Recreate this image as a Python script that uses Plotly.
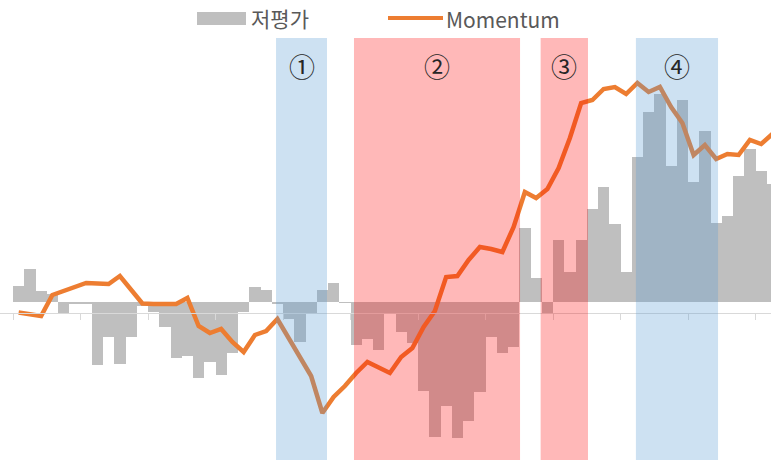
import plotly.graph_objects as go

# ---- data ----
bar_name = "저평가"
line_name = "Momentum"

undervalue = [1.6, 3.3, 1.1, 0.8, -1.1, -0.2, -0.2, -6.3, -3.5, -6.2,
              -3.5, -0.4, -1.0, -2.5, -5.6, -5.4, -7.6, -6.0, -7.3, -5.1,
              -1.0, 1.5, 1.2, -0.2, -1.7, -4.0, -1.1, 1.2, 1.9, -0.1,
              -4.3, -3.7, -4.8, -1.1, -3.0, -4.1, -8.9, -13.5, -10.4, -13.6,
              -11.9, -9.0, -3.5, -5.1, -4.5, 7.4, 2.4, -1.1, 6.2, 3.0,
              6.2, 9.3, 11.5, 7.8, 3.0, 14.5, 19.0, 20.8, 13.6, 20.2,
              12.0, 17.1, 7.9, 8.6, 12.6, 15.3, 13.1, 11.8]

momentum = [0.05, -0.1, -0.3, 1.8, 2.2, 2.6, 3.0, 2.95, 2.9, 3.7,
            2.3, 0.95, 0.9, 0.9, 0.9, 1.5, -1.3, -2.0, -1.6, -2.9,
            -3.9, -2.2, -1.8, -0.6, -2.5, -4.4, -6.3, -10.0, -8.4, -7.3,
            -6.0, -4.9, -5.4, -6.0, -4.4, -3.5, -1.4, 0.2, 3.6, 3.7,
            5.3, 6.6, 6.4, 6.1, 8.6, 12.1, 11.5, 12.4, 14.5, 17.5,
            21.0, 21.3, 22.4, 22.6, 21.9, 23.0, 22.1, 22.6, 20.6, 19.0,
            15.8, 16.8, 15.4, 15.9, 15.8, 17.3, 16.9, 17.9]

periods = list(range(len(undervalue)))
tick_positions = [-0.5, 5.5, 11.5, 17.5, 23.5, 29.5, 35.5, 41.5, 47.5, 53.5, 59.5, 65.5]

region_labels = ["①", "②", "③", "④"]
region_start = [22.88, 29.81, 46.4, 54.87]
region_end = [27.41, 44.57, 50.61, 62.17]
region_colors = ["rgba(91,155,213,0.30)", "rgba(255,0,0,0.28)",
                 "rgba(255,0,0,0.28)", "rgba(91,155,213,0.30)"]

W, H = 771, 464

fig = go.Figure()
fig.add_trace(go.Bar(x=periods, y=undervalue, name=bar_name,
                     marker=dict(color="#BFBFBF", line=dict(width=0)),
                     yaxis="y", showlegend=False))
fig.add_trace(go.Scatter(x=periods, y=momentum, name=line_name, mode="lines",
                         line=dict(color="#ED7D31", width=4.5),
                         yaxis="y2", showlegend=False))

shapes = []
for s, e, c in zip(region_start, region_end, region_colors):
    shapes.append(dict(type="rect", xref="x", yref="paper", x0=s, x1=e,
                       y0=1 - 460 / H, y1=1 - 38 / H, fillcolor=c,
                       line=dict(width=0), layer="above"))

# custom legend
shapes.append(dict(type="rect", xref="paper", yref="paper",
                   x0=197 / W, x1=246 / W, y0=1 - 25 / H, y1=1 - 12 / H,
                   fillcolor="#BFBFBF", line=dict(width=0)))
shapes.append(dict(type="line", xref="paper", yref="paper",
                   x0=388 / W, x1=443 / W, y0=1 - 18 / H, y1=1 - 18 / H,
                   line=dict(color="#ED7D31", width=4)))

annotations = [
    dict(text=bar_name, xref="paper", yref="paper", x=249 / W, y=1 - 18 / H,
         xanchor="left", yanchor="middle", showarrow=False,
         font=dict(family="Noto Sans CJK KR", size=21, color="#595959")),
    dict(text=line_name, xref="paper", yref="paper", x=444 / W, y=1 - 19 / H,
         xanchor="left", yanchor="middle", showarrow=False,
         font=dict(family="Noto Sans CJK KR", size=21, color="#595959")),
]
for lab, s, e in zip(region_labels, region_start, region_end):
    annotations.append(dict(text=lab, xref="x", yref="paper", x=(s + e) / 2,
                            y=1 - 65 / H, xanchor="center", yanchor="middle",
                            showarrow=False,
                            font=dict(family="Noto Sans CJK KR", size=26,
                                      color="#262626")))

x_left = -0.5 - 13 / 11.25
x_right = x_left + W / 11.25

fig.update_layout(
    width=W, height=H,
    margin=dict(l=0, r=0, t=0, b=0),
    paper_bgcolor="white", plot_bgcolor="white",
    bargap=0,
    showlegend=False,
    xaxis=dict(range=[x_left, x_right], anchor="free", position=1 - 313 / H,
               showline=True, linecolor="#D9D9D9", linewidth=1,
               ticks="outside", ticklen=6, tickcolor="#D9D9D9", tickwidth=1,
               tickmode="array", tickvals=tick_positions,
               showticklabels=False, showgrid=False, zeroline=False),
    yaxis=dict(range=[30.2 - H / 10, 30.2], showgrid=False, zeroline=False,
               showticklabels=False, showline=False),
    yaxis2=dict(range=[31.3 - H / 10, 31.3], overlaying="y", showgrid=False,
                zeroline=False, showticklabels=False, showline=False),
    shapes=shapes,
    annotations=annotations,
)

fig.write_html("out.html",
               config={"displayModeBar": False, "staticPlot": True},
               post_script="document.body.style.margin='0';"
                           "document.body.style.overflow='hidden';")
